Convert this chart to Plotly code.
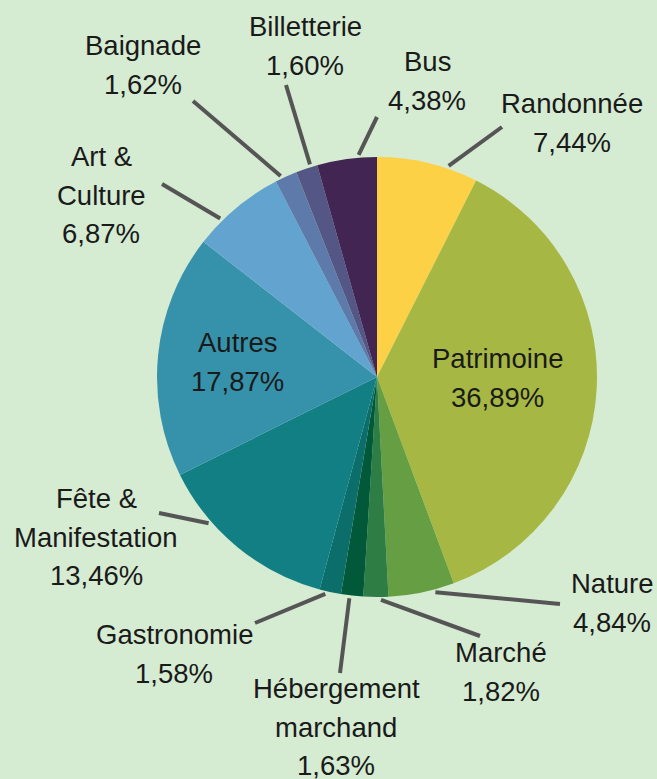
import math
import plotly.graph_objects as go

# slices, clockwise from 12 o'clock
labels = ["Randonnée", "Patrimoine", "Nature", "Marché", "Hébergement marchand",
          "Gastronomie", "Fête & Manifestation", "Autres", "Art & Culture",
          "Baignade", "Billetterie", "Bus"]
shares = [7.44, 36.89, 4.84, 1.82, 1.63, 1.58, 13.46, 17.87, 6.87, 1.62, 1.60, 4.38]
label_lines = [["Randonnée"], ["Patrimoine"], ["Nature"], ["Marché"],
               ["Hébergement", "marchand"], ["Gastronomie"], ["Fête &", "Manifestation"],
               ["Autres"], ["Art &", "Culture"], ["Baignade"], ["Billetterie"], ["Bus"]]
colors = ["#fcd146", "#a6b843", "#669e43", "#2e7d45", "#02593a", "#0b6e6a",
          "#127f85", "#3692aa", "#62a4cf", "#5d7aab", "#545785", "#422552"]

W, H = 657, 779
CX, CY, R = 377, 377, 220
BG = "#d5ebd2"
FONT = "Liberation Sans, Arial, sans-serif"
LINE_H = 38.5

# label block centres and leader line ends, in pixels (None = label inside slice)
label_xy = [(572, 123), (497, 378), (612, 603), (501, 672), (336, 727), (174, 654),
            (96, 537), (237, 362), (101, 195), (143, 65), (305, 46), (427, 81)]
leader_end = [(502, 127), None, (560, 604), (480, 636), (340, 673), (255, 623),
              (159, 513), None, (162, 184), (193, 101), (286, 85), (377, 117)]


def px(x, y):
    return x / W, 1 - y / H


def pct(v):
    return f"{v:.2f}".replace(".", ",") + "%"


fig = go.Figure(go.Pie(
    labels=labels,
    values=shares,
    sort=False,
    direction="clockwise",
    rotation=0,
    textinfo="none",
    hoverinfo="label+percent",
    marker=dict(colors=colors, line=dict(width=0)),
    domain=dict(x=[(CX - R) / W, (CX + R) / W], y=[1 - (CY + R) / H, 1 - (CY - R) / H]),
))

total = sum(shares)
cum = 0
shapes, annotations = [], []
for i, v in enumerate(shares):
    a0 = cum / total * 360
    a1 = (cum + v) / total * 360
    cum += v
    mid = (a0 + a1) / 2

    # leader line: starts on the slice edge, leaning towards its label
    end = leader_end[i]
    if end is not None:
        ex, ey = end
        ang = math.degrees(math.atan2(ex - CX, -(ey - CY)))
        diff = ((ang - mid + 180) % 360) - 180
        half = 0.2 * (a1 - a0)
        a = math.radians(mid + max(-half, min(half, diff)))
        sx = CX + (R + 3) * math.sin(a)
        sy = CY - (R + 3) * math.cos(a)
        x0, y0 = px(sx, sy)
        x1, y1 = px(ex, ey)
        shapes.append(dict(type="line", xref="paper", yref="paper",
                           x0=x0, y0=y0, x1=x1, y1=y1,
                           line=dict(color="#555555", width=4)))

    lines = label_lines[i] + [pct(v)]
    lx, ly = label_xy[i]
    n = len(lines)
    for j, t in enumerate(lines):
        xx, yy = px(lx, ly + (j - (n - 1) / 2) * LINE_H)
        annotations.append(dict(x=xx, y=yy, xref="paper", yref="paper", text=t,
                                showarrow=False, xanchor="center", yanchor="middle",
                                font=dict(family=FONT, size=27.5, color="#1a1a1a")))

fig.update_layout(
    width=W,
    height=H,
    margin=dict(l=0, r=0, t=0, b=0),
    paper_bgcolor=BG,
    plot_bgcolor=BG,
    showlegend=False,
    shapes=shapes,
    annotations=annotations,
)

# drop the default page margin so the figure fills the window
fig.write_html("out.html",
               config={"displayModeBar": False},
               post_script="document.body.style.margin='0';"
                           f"document.body.style.background='{BG}';")
